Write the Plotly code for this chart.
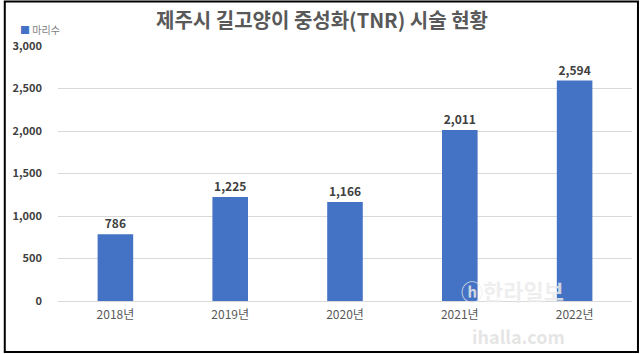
import plotly.graph_objects as go

categories = ["2018년", "2019년", "2020년", "2021년", "2022년"]
values = [786, 1225, 1166, 2011, 2594]
series_name = "마리수"
title_text = "제주시 길고양이 중성화(TNR) 시술 현황"
y_ticks = [0, 500, 1000, 1500, 2000, 2500, 3000]

FONT = "Noto Sans CJK KR, Noto Sans, sans-serif"
BAR = "#4472C4"

W, H = 644, 354
ML, MR, MT, MB = 55, 12, 46, 53
PW, PH = W - ML - MR, H - MT - MB

def px_x(p):
    return (p - ML) / PW

def px_y(p):
    return (H - MB - p) / PH

fig = go.Figure(
    go.Bar(
        x=categories,
        y=values,
        name=series_name,
        marker=dict(color=BAR, line=dict(width=0)),
        texttemplate="%{y:,}",
        textposition="outside",
        textfont=dict(family=FONT, size=12, color="#404040", weight="bold"),
        cliponaxis=False,
        showlegend=False,
    )
)

fig.update_layout(
    width=W,
    height=H,
    margin=dict(l=ML, r=MR, t=MT, b=MB, pad=0),
    paper_bgcolor="white",
    plot_bgcolor="white",
    bargap=0.69,
    font=dict(family=FONT, color="#595959"),
    title=dict(
        text=title_text,
        x=0.5,
        xref="container",
        xanchor="center",
        y=1 - 21 / H,
        yref="container",
        yanchor="middle",
        font=dict(family=FONT, size=20, color="#595959", weight="bold"),
    ),
    xaxis=dict(
        showgrid=False,
        showline=False,
        ticks="",
        tickfont=dict(family=FONT, size=12, color="#595959"),
        ticklabelstandoff=5,
    ),
    yaxis=dict(
        range=[0, 3000],
        tickvals=y_ticks,
        tickformat=",",
        showgrid=True,
        gridcolor="#D9D9D9",
        gridwidth=1,
        zeroline=True,
        zerolinecolor="#D9D9D9",
        zerolinewidth=1,
        showline=False,
        ticks="",
        tickfont=dict(family=FONT, size=11, color="#404040", weight="bold"),
        ticklabelstandoff=15,
    ),
    shapes=[
        dict(
            type="rect",
            xref="paper",
            yref="paper",
            x0=px_x(1.5),
            x1=px_x(638),
            y0=px_y(352),
            y1=px_y(1.5),
            line=dict(color="black", width=2),
            fillcolor="rgba(0,0,0,0)",
            layer="above",
        )
    ],
    annotations=[
        dict(
            text=f"<span style='color:{BAR}'>■</span> {series_name}",
            xref="paper",
            yref="paper",
            x=px_x(15),
            y=px_y(29),
            xanchor="left",
            yanchor="middle",
            showarrow=False,
            font=dict(family=FONT, size=10, color="#7F7F7F"),
        ),
        dict(
            text="ⓗ한라일보",
            xref="paper",
            yref="paper",
            x=px_x(512),
            y=px_y(290),
            xanchor="center",
            yanchor="middle",
            showarrow=False,
            font=dict(family=FONT, size=22, color="rgba(235,235,235,0.85)", weight="bold"),
        ),
        dict(
            text="ihalla.com",
            xref="paper",
            yref="paper",
            x=px_x(518),
            y=px_y(336),
            xanchor="center",
            yanchor="middle",
            showarrow=False,
            font=dict(family=FONT, size=18, color="rgba(225,225,225,0.85)", weight="bold"),
        ),
    ],
)

fig.write_html("out.html")
